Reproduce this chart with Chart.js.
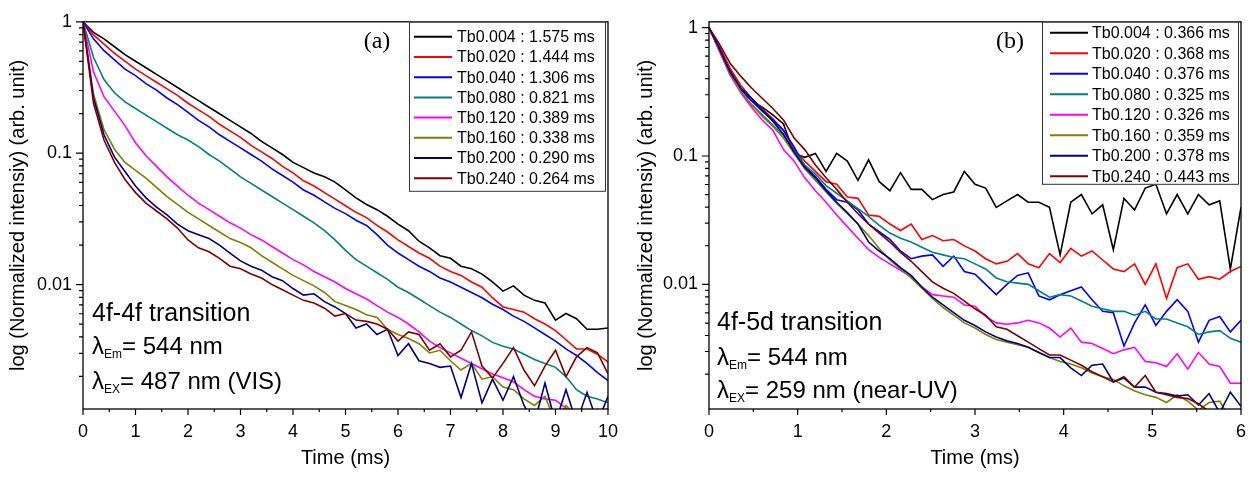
<!DOCTYPE html>
<html><head><meta charset="utf-8">
<script src="https://cdn.jsdelivr.net/npm/chart.js@4.4.0/dist/chart.umd.min.js"></script>
<style>
html,body{margin:0;padding:0;background:#fff;}
#wrap{position:relative;width:1258px;height:480px;overflow:hidden;}
#ca{position:absolute;left:0;top:0;width:630px;height:480px;}
#cb{position:absolute;left:630px;top:0;width:628px;height:480px;}
</style></head><body>
<div id="wrap"><canvas id="ca" width="630" height="480"></canvas><canvas id="cb" width="628" height="480"></canvas></div>
<script>
// ---------- DATA (values are log10 of normalized intensity) ----------
const yTickValues = [0.01, 0.1, 1];
const colors = ['#000000','#ff0000','#0000ff','#008080','#ff00ff','#808000','#000080','#800000'];

// Panel (a): 4f-4f transition, time in ms
const timeA = [0,
 0.2,0.4,0.6,0.8,1.0, 1.2,1.4,1.6,1.8,2.0, 2.2,2.4,2.6,2.8,3.0, 3.2,3.4,3.6,3.8,4.0, 4.2,4.4,4.6,4.8,5.0,
 5.2,5.4,5.6,5.8,6.0, 6.2,6.4,6.6,6.8,7.0, 7.2,7.4,7.6,7.8,8.0, 8.2,8.4,8.6,8.8,9.0, 9.2,9.4,9.6,9.8,10.0];
const labelsA = ['Tb0.004 : 1.575 ms','Tb0.020 : 1.444 ms','Tb0.040 : 1.306 ms','Tb0.080 : 0.821 ms',
 'Tb0.120 : 0.389 ms','Tb0.160 : 0.338 ms','Tb0.200 : 0.290 ms','Tb0.240 : 0.264 ms'];
const a_Tb0004 = [0,
 -0.08,-0.13,-0.19,-0.25,-0.30, -0.35,-0.40,-0.45,-0.50,-0.55, -0.60,-0.65,-0.70,-0.75,-0.80, -0.85,-0.91,-0.96,-1.01,-1.07,
 -1.11,-1.15,-1.18,-1.22,-1.28, -1.34,-1.39,-1.43,-1.48,-1.54, -1.59,-1.67,-1.72,-1.78,-1.80, -1.86,-1.88,-1.92,-1.98,-2.05,
 -2.01,-2.08,-2.12,-2.14,-2.27, -2.22,-2.26,-2.34,-2.34,-2.33];
const a_Tb0020 = [0,
 -0.10,-0.17,-0.24,-0.30,-0.36, -0.41,-0.46,-0.51,-0.56,-0.62, -0.67,-0.72,-0.78,-0.83,-0.88, -0.94,-0.99,-1.04,-1.10,-1.15,
 -1.21,-1.25,-1.30,-1.35,-1.40, -1.45,-1.49,-1.55,-1.60,-1.66, -1.71,-1.76,-1.80,-1.86,-1.90, -1.93,-1.98,-2.02,-2.10,-2.17,
 -2.19,-2.21,-2.26,-2.30,-2.35, -2.42,-2.49,-2.49,-2.53,-2.59];
const a_Tb0040 = [0,
 -0.13,-0.22,-0.29,-0.36,-0.41, -0.47,-0.52,-0.58,-0.63,-0.69, -0.75,-0.80,-0.86,-0.91,-0.96, -1.01,-1.06,-1.12,-1.17,-1.22,
 -1.28,-1.32,-1.37,-1.42,-1.46, -1.51,-1.55,-1.62,-1.70,-1.76, -1.81,-1.86,-1.90,-1.95,-1.98, -2.02,-2.06,-2.10,-2.15,-2.19,
 -2.24,-2.28,-2.33,-2.38,-2.43, -2.49,-2.54,-2.60,-2.67,-2.73];
const a_Tb0080 = [0,
 -0.27,-0.44,-0.54,-0.61,-0.66, -0.71,-0.76,-0.81,-0.86,-0.90, -0.95,-1.01,-1.06,-1.12,-1.18, -1.23,-1.28,-1.33,-1.38,-1.43,
 -1.48,-1.53,-1.59,-1.66,-1.74, -1.81,-1.86,-1.91,-1.96,-2.02, -2.06,-2.11,-2.16,-2.21,-2.25, -2.30,-2.35,-2.39,-2.44,-2.47,
 -2.49,-2.53,-2.57,-2.60,-2.63, -2.70,-2.80,-2.85,-2.87,-2.90];
const a_Tb0120 = [0,
 -0.38,-0.57,-0.68,-0.79,-0.92, -1.02,-1.10,-1.18,-1.25,-1.32, -1.38,-1.43,-1.48,-1.53,-1.57, -1.62,-1.66,-1.71,-1.76,-1.81,
 -1.85,-1.90,-1.94,-1.98,-2.03, -2.07,-2.11,-2.16,-2.21,-2.25, -2.30,-2.36,-2.43,-2.48,-2.52, -2.56,-2.60,-2.64,-2.68,-2.71,
 -2.74,-2.80,-2.85,-2.87,-2.88, -2.94,-3.00,-2.98,-3.05,-3.02];
const a_Tb0160 = [0,
 -0.55,-0.82,-0.97,-1.07,-1.13, -1.19,-1.26,-1.33,-1.39,-1.45, -1.50,-1.55,-1.60,-1.65,-1.68, -1.72,-1.78,-1.83,-1.88,-1.93,
 -1.97,-2.01,-2.06,-2.13,-2.16, -2.19,-2.23,-2.25,-2.34,-2.38, -2.41,-2.45,-2.52,-2.50,-2.58, -2.65,-2.60,-2.72,-2.70,-2.78,
 -2.80,-2.87,-2.92,-2.85,-3.05, -2.92,-3.00,-3.05,-2.95,-3.00];
const a_Tb0200 = [0,
 -0.58,-0.86,-1.03,-1.14,-1.25, -1.34,-1.41,-1.47,-1.54,-1.59, -1.62,-1.65,-1.70,-1.76,-1.82, -1.86,-1.89,-1.94,-1.97,-2.03,
 -2.08,-2.07,-2.13,-2.17,-2.22, -2.33,-2.30,-2.38,-2.34,-2.54, -2.45,-2.58,-2.60,-2.63,-2.62, -2.86,-2.60,-2.90,-2.72,-2.88,
 -2.70,-2.92,-3.05,-2.75,-3.05, -2.80,-3.05,-2.82,-3.05,-2.85];
const a_Tb0240 = [0,
 -0.62,-0.90,-1.07,-1.20,-1.30, -1.38,-1.44,-1.50,-1.57,-1.66, -1.72,-1.75,-1.80,-1.86,-1.88, -1.92,-1.95,-2.00,-2.04,-2.08,
 -2.12,-2.14,-2.18,-2.24,-2.22, -2.27,-2.28,-2.30,-2.34,-2.43, -2.36,-2.38,-2.50,-2.45,-2.55, -2.50,-2.36,-2.62,-2.71,-2.60,
 -2.48,-2.65,-2.77,-2.62,-2.50, -2.70,-2.55,-2.48,-2.52,-2.68];

// Panel (b): 4f-5d transition, time in ms
const timeB = [0,
 0.12,0.24,0.36,0.48,0.60, 0.72,0.84,0.96,1.08,1.20, 1.32,1.44,1.56,1.68,1.80, 1.92,2.04,2.16,2.28,2.40,
 2.52,2.64,2.76,2.88,3.00, 3.12,3.24,3.36,3.48,3.60, 3.72,3.84,3.96,4.08,4.20, 4.32,4.44,4.56,4.68,4.80,
 4.92,5.04,5.16,5.28,5.40, 5.52,5.64,5.76,5.88,6.00];
const labelsB = ['Tb0.004 : 0.366 ms','Tb0.020 : 0.368 ms','Tb0.040 : 0.376 ms','Tb0.080 : 0.325 ms',
 'Tb0.120 : 0.326 ms','Tb0.160 : 0.359 ms','Tb0.200 : 0.378 ms','Tb0.240 : 0.443 ms'];
const b_Tb0004 = [0,
 -0.16,-0.33,-0.48,-0.57,-0.62, -0.68,-0.75,-0.98,-1.01,-0.98, -1.12,-0.98,-1.04,-1.19,-1.03, -1.20,-1.27,-1.13,-1.26,-1.26,
 -1.34,-1.30,-1.28,-1.12,-1.22, -1.25,-1.40,-1.35,-1.30,-1.36, -1.36,-1.40,-1.77,-1.36,-1.30, -1.45,-1.38,-1.73,-1.33,-1.42,
 -1.25,-1.22,-1.45,-1.30,-1.45, -1.30,-1.38,-1.35,-1.88,-1.40];
const b_Tb0020 = [0,
 -0.15,-0.32,-0.45,-0.55,-0.63, -0.71,-0.80,-0.95,-1.04,-1.12, -1.20,-1.22,-1.32,-1.33,-1.46, -1.47,-1.53,-1.58,-1.53,-1.65,
 -1.62,-1.66,-1.65,-1.70,-1.74, -1.80,-1.84,-1.82,-1.76,-1.84, -1.87,-1.76,-1.83,-1.72,-1.78, -1.74,-1.81,-1.88,-1.90,-1.84,
 -2.00,-1.84,-2.11,-1.87,-1.84, -1.96,-1.94,-1.96,-1.90,-1.86];
const b_Tb0040 = [0,
 -0.17,-0.35,-0.48,-0.57,-0.65, -0.72,-0.80,-0.93,-1.08,-1.16, -1.26,-1.34,-1.36,-1.42,-1.53, -1.59,-1.65,-1.74,-1.80,-1.78,
 -1.77,-1.86,-1.78,-1.90,-1.92, -2.00,-2.08,-2.00,-1.93,-1.91, -2.09,-2.12,-2.08,-2.05,-2.02, -2.12,-2.21,-2.22,-2.48,-2.30,
 -2.16,-2.32,-2.21,-2.12,-2.21, -2.45,-2.28,-2.25,-2.37,-2.28];
const b_Tb0080 = [0,
 -0.18,-0.37,-0.50,-0.60,-0.68, -0.76,-0.84,-0.96,-1.07,-1.14, -1.23,-1.29,-1.35,-1.41,-1.47, -1.54,-1.60,-1.64,-1.67,-1.71,
 -1.75,-1.77,-1.79,-1.80,-1.84, -1.88,-1.95,-1.98,-1.99,-2.00, -2.05,-2.10,-2.08,-2.09,-2.13, -2.17,-2.19,-2.21,-2.21,-2.24,
 -2.21,-2.27,-2.27,-2.30,-2.33, -2.39,-2.37,-2.36,-2.42,-2.45];
const b_Tb0120 = [0,
 -0.19,-0.37,-0.51,-0.62,-0.72, -0.80,-0.95,-1.04,-1.17,-1.27, -1.36,-1.46,-1.55,-1.64,-1.73, -1.79,-1.84,-1.89,-1.94,-2.02,
 -2.08,-2.09,-2.10,-2.16,-2.17, -2.25,-2.30,-2.31,-2.30,-2.28, -2.30,-2.34,-2.41,-2.34,-2.45, -2.46,-2.50,-2.54,-2.51,-2.49,
 -2.60,-2.61,-2.64,-2.54,-2.66, -2.53,-2.62,-2.64,-2.77,-2.77];
const b_Tb0160 = [0,
 -0.18,-0.36,-0.50,-0.60,-0.69, -0.77,-0.86,-0.98,-1.10,-1.19, -1.28,-1.37,-1.45,-1.53,-1.62, -1.72,-1.81,-1.88,-1.95,-2.03,
 -2.11,-2.18,-2.24,-2.30,-2.34, -2.39,-2.43,-2.45,-2.47,-2.49, -2.53,-2.57,-2.60,-2.62,-2.65, -2.69,-2.72,-2.74,-2.79,-2.83,
 -2.86,-2.88,-2.92,-2.86,-2.91, -2.98,-2.92,-2.91,-3.05,-3.02];
const b_Tb0200 = [0,
 -0.17,-0.35,-0.47,-0.55,-0.64, -0.73,-0.83,-0.97,-1.09,-1.17, -1.27,-1.36,-1.44,-1.53,-1.67, -1.74,-1.80,-1.87,-1.93,-2.02,
 -2.10,-2.16,-2.22,-2.28,-2.32, -2.37,-2.41,-2.44,-2.46,-2.49, -2.53,-2.57,-2.57,-2.65,-2.71, -2.63,-2.62,-2.76,-2.73,-2.80,
 -2.80,-2.84,-2.85,-2.87,-2.86, -2.94,-2.85,-3.00,-2.84,-2.95];
const b_Tb0240 = [0,
 -0.13,-0.28,-0.38,-0.47,-0.55, -0.63,-0.72,-0.86,-0.95,-1.07, -1.17,-1.26,-1.36,-1.45,-1.53, -1.60,-1.67,-1.75,-1.82,-1.90,
 -1.98,-2.03,-2.07,-2.13,-2.19, -2.24,-2.33,-2.35,-2.40,-2.45, -2.50,-2.55,-2.55,-2.59,-2.63, -2.68,-2.72,-2.76,-2.72,-2.80,
 -2.71,-2.84,-2.86,-2.88,-2.89, -2.93,-2.99,-3.05,-3.10,-3.12];

const seriesA = [a_Tb0004,a_Tb0020,a_Tb0040,a_Tb0080,a_Tb0120,a_Tb0160,a_Tb0200,a_Tb0240];
const seriesB = [b_Tb0004,b_Tb0020,b_Tb0040,b_Tb0080,b_Tb0120,b_Tb0160,b_Tb0200,b_Tb0240];

// ---------- RENDERING ----------
const SANS = '"Liberation Sans", Arial, sans-serif';
const SERIF = '"Liberation Serif", "Times New Roman", serif';
Chart.defaults.font.family = SANS;
Chart.defaults.color = '#000';

function makeDatasets(time, series, labels) {
  return series.map((s, i) => ({
    label: labels[i],
    data: s.map((lv, k) => ({ x: time[k], y: Math.pow(10, lv) })),
    borderColor: colors[i],
    backgroundColor: colors[i],
    borderWidth: 1.6,
    pointRadius: 0,
    tension: 0,
    fill: false,
    order: series.length - i,
    clip: 0
  }));
}

const decor = {
  id: 'decor',
  afterDatasetsDraw(chart, args, o) {
    const ctx = chart.ctx, ca = chart.chartArea, xs = chart.scales.x, ys = chart.scales.y;
    ctx.save();
    // frame
    ctx.strokeStyle = '#000';
    ctx.lineWidth = 1.3;
    ctx.strokeRect(ca.left, ca.top, ca.right - ca.left, ca.bottom - ca.top);
    // ticks
    ctx.lineWidth = 1.2;
    ctx.beginPath();
    const xt = xs.ticks.map(t => t.value);
    xt.forEach((v, i) => {
      const p = xs.getPixelForValue(v);
      ctx.moveTo(p, ca.bottom); ctx.lineTo(p, ca.bottom + 6);
      if (i < xt.length - 1) {
        const m = xs.getPixelForValue((v + xt[i + 1]) / 2);
        ctx.moveTo(m, ca.bottom); ctx.lineTo(m, ca.bottom + 3);
      }
    });
    ys.ticks.forEach(t => {
      const p = ys.getPixelForValue(t.value);
      ctx.moveTo(ca.left, p); ctx.lineTo(ca.left - 7, p);
    });
    [0.001, 0.01, 0.1].forEach(d => {
      for (let k = 2; k <= 9; k++) {
        const v = k * d;
        if (v >= ys.min && v <= ys.max) {
          const p = ys.getPixelForValue(v);
          ctx.moveTo(ca.left, p); ctx.lineTo(ca.left - 4, p);
        }
      }
    });
    ctx.stroke();

    // axis titles
    ctx.fillStyle = '#000';
    ctx.font = '20px ' + SANS;
    ctx.textAlign = 'center';
    ctx.textBaseline = 'middle';
    ctx.fillText('Time (ms)', (ca.left + ca.right) / 2, o.xTitleY);
    ctx.save();
    ctx.translate(o.yTitleX, (ca.top + ca.bottom) / 2);
    ctx.rotate(-Math.PI / 2);
    ctx.fillText('log (Normalized intensiy) (arb. unit)', 0, 0);
    ctx.restore();

    // panel label
    ctx.font = '24px ' + SERIF;
    ctx.fillText(o.panel, ca.right - 231, 42);

    // legend box
    const L = o.legend;
    const bx = ca.right - 2 - L.w, by = ca.top;
    ctx.fillStyle = '#fff';
    ctx.fillRect(bx, by, L.w, L.h);
    ctx.strokeStyle = '#333';
    ctx.lineWidth = 1;
    ctx.strokeRect(bx + 0.5, by + 0.5, L.w - 1, L.h - 1);
    ctx.textAlign = 'left';
    ctx.textBaseline = 'middle';
    ctx.font = '16px ' + SANS;
    chart.data.datasets.forEach((ds, i) => {
      const y = by + L.first + i * L.step;
      ctx.strokeStyle = ds.borderColor;
      ctx.lineWidth = 2;
      ctx.beginPath();
      ctx.moveTo(bx + L.s0, y); ctx.lineTo(bx + L.s1, y);
      ctx.stroke();
      ctx.fillStyle = '#000';
      ctx.fillText(ds.label, bx + L.tx, y + 1);
    });

    // notes
    const N = o.notes;
    const x0 = ca.left + N.dx;
    ctx.textBaseline = 'alphabetic';
    ctx.fillStyle = '#000';
    ctx.font = '25px ' + SANS;
    ctx.fillText(N.title, x0, N.y[0]);
    N.lam.forEach((ln, j) => {
      const yb = N.y[j + 1];
      ctx.font = '24px ' + SANS;
      ctx.fillText('\u03BB', x0, yb);
      let w = ctx.measureText('\u03BB').width;
      ctx.font = '12px ' + SANS;
      ctx.fillText(ln[0], x0 + w, yb + 4);
      w += ctx.measureText(ln[0]).width;
      ctx.font = '24px ' + SANS;
      ctx.fillText(ln[1], x0 + w, yb);
    });
    ctx.restore();
  }
};

function makeConfig(time, series, labels, xMax, yMin, yMax, yAxisW, deco) {
  return {
    type: 'line',
    data: { datasets: makeDatasets(time, series, labels) },
    options: {
      responsive: false,
      animation: false,
      events: [],
      layout: { padding: { top: 17, right: 17, left: 0, bottom: 0 } },
      plugins: { legend: { display: false }, tooltip: { enabled: false }, decor: deco },
      scales: {
        x: {
          type: 'linear', min: 0, max: xMax, bounds: 'data',
          grid: { display: false, drawTicks: false }, border: { display: false },
          ticks: { stepSize: 1, color: '#000', font: { size: 18 }, padding: 12, maxRotation: 0, autoSkip: false },
          afterFit(s) { s.height = 71; }
        },
        y: {
          type: 'logarithmic', min: yMin, max: yMax, bounds: 'data',
          grid: { display: false, drawTicks: false }, border: { display: false },
          ticks: { color: '#000', font: { size: 18 }, padding: 11, autoSkip: false, callback: v => String(v) },
          afterBuildTicks(s) { s.ticks = yTickValues.filter(v => v >= yMin && v <= yMax).map(v => ({ value: v })); },
          afterFit(s) { s.width = yAxisW; }
        }
      }
    },
    plugins: [decor]
  };
}

new Chart(document.getElementById('ca'), makeConfig(timeA, seriesA, labelsA, 10, 0.00113, 1, 83, {
  panel: '(a)', xTitleY: 458, yTitleX: 18,
  legend: { w: 197, h: 170, first: 15, step: 20.2, s0: 5, s1: 43, tx: 48 },
  notes: { dx: 9, title: '4f-4f transition', y: [321, 354, 389], lam: [['Em', '= 544 nm'], ['EX', '= 487 nm (VIS)']] }
}));
new Chart(document.getElementById('cb'), makeConfig(timeB, seriesB, labelsB, 6, 0.00107, 1.11, 79, {
  panel: '(b)', xTitleY: 458, yTitleX: 16,
  legend: { w: 197, h: 163, first: 11, step: 20.5, s0: 8, s1: 46, tx: 50 },
  notes: { dx: 8, title: '4f-5d transition', y: [330, 365, 398], lam: [['Em', '= 544 nm'], ['EX', '= 259 nm (near-UV)']] }
}));
</script>
</body></html>
